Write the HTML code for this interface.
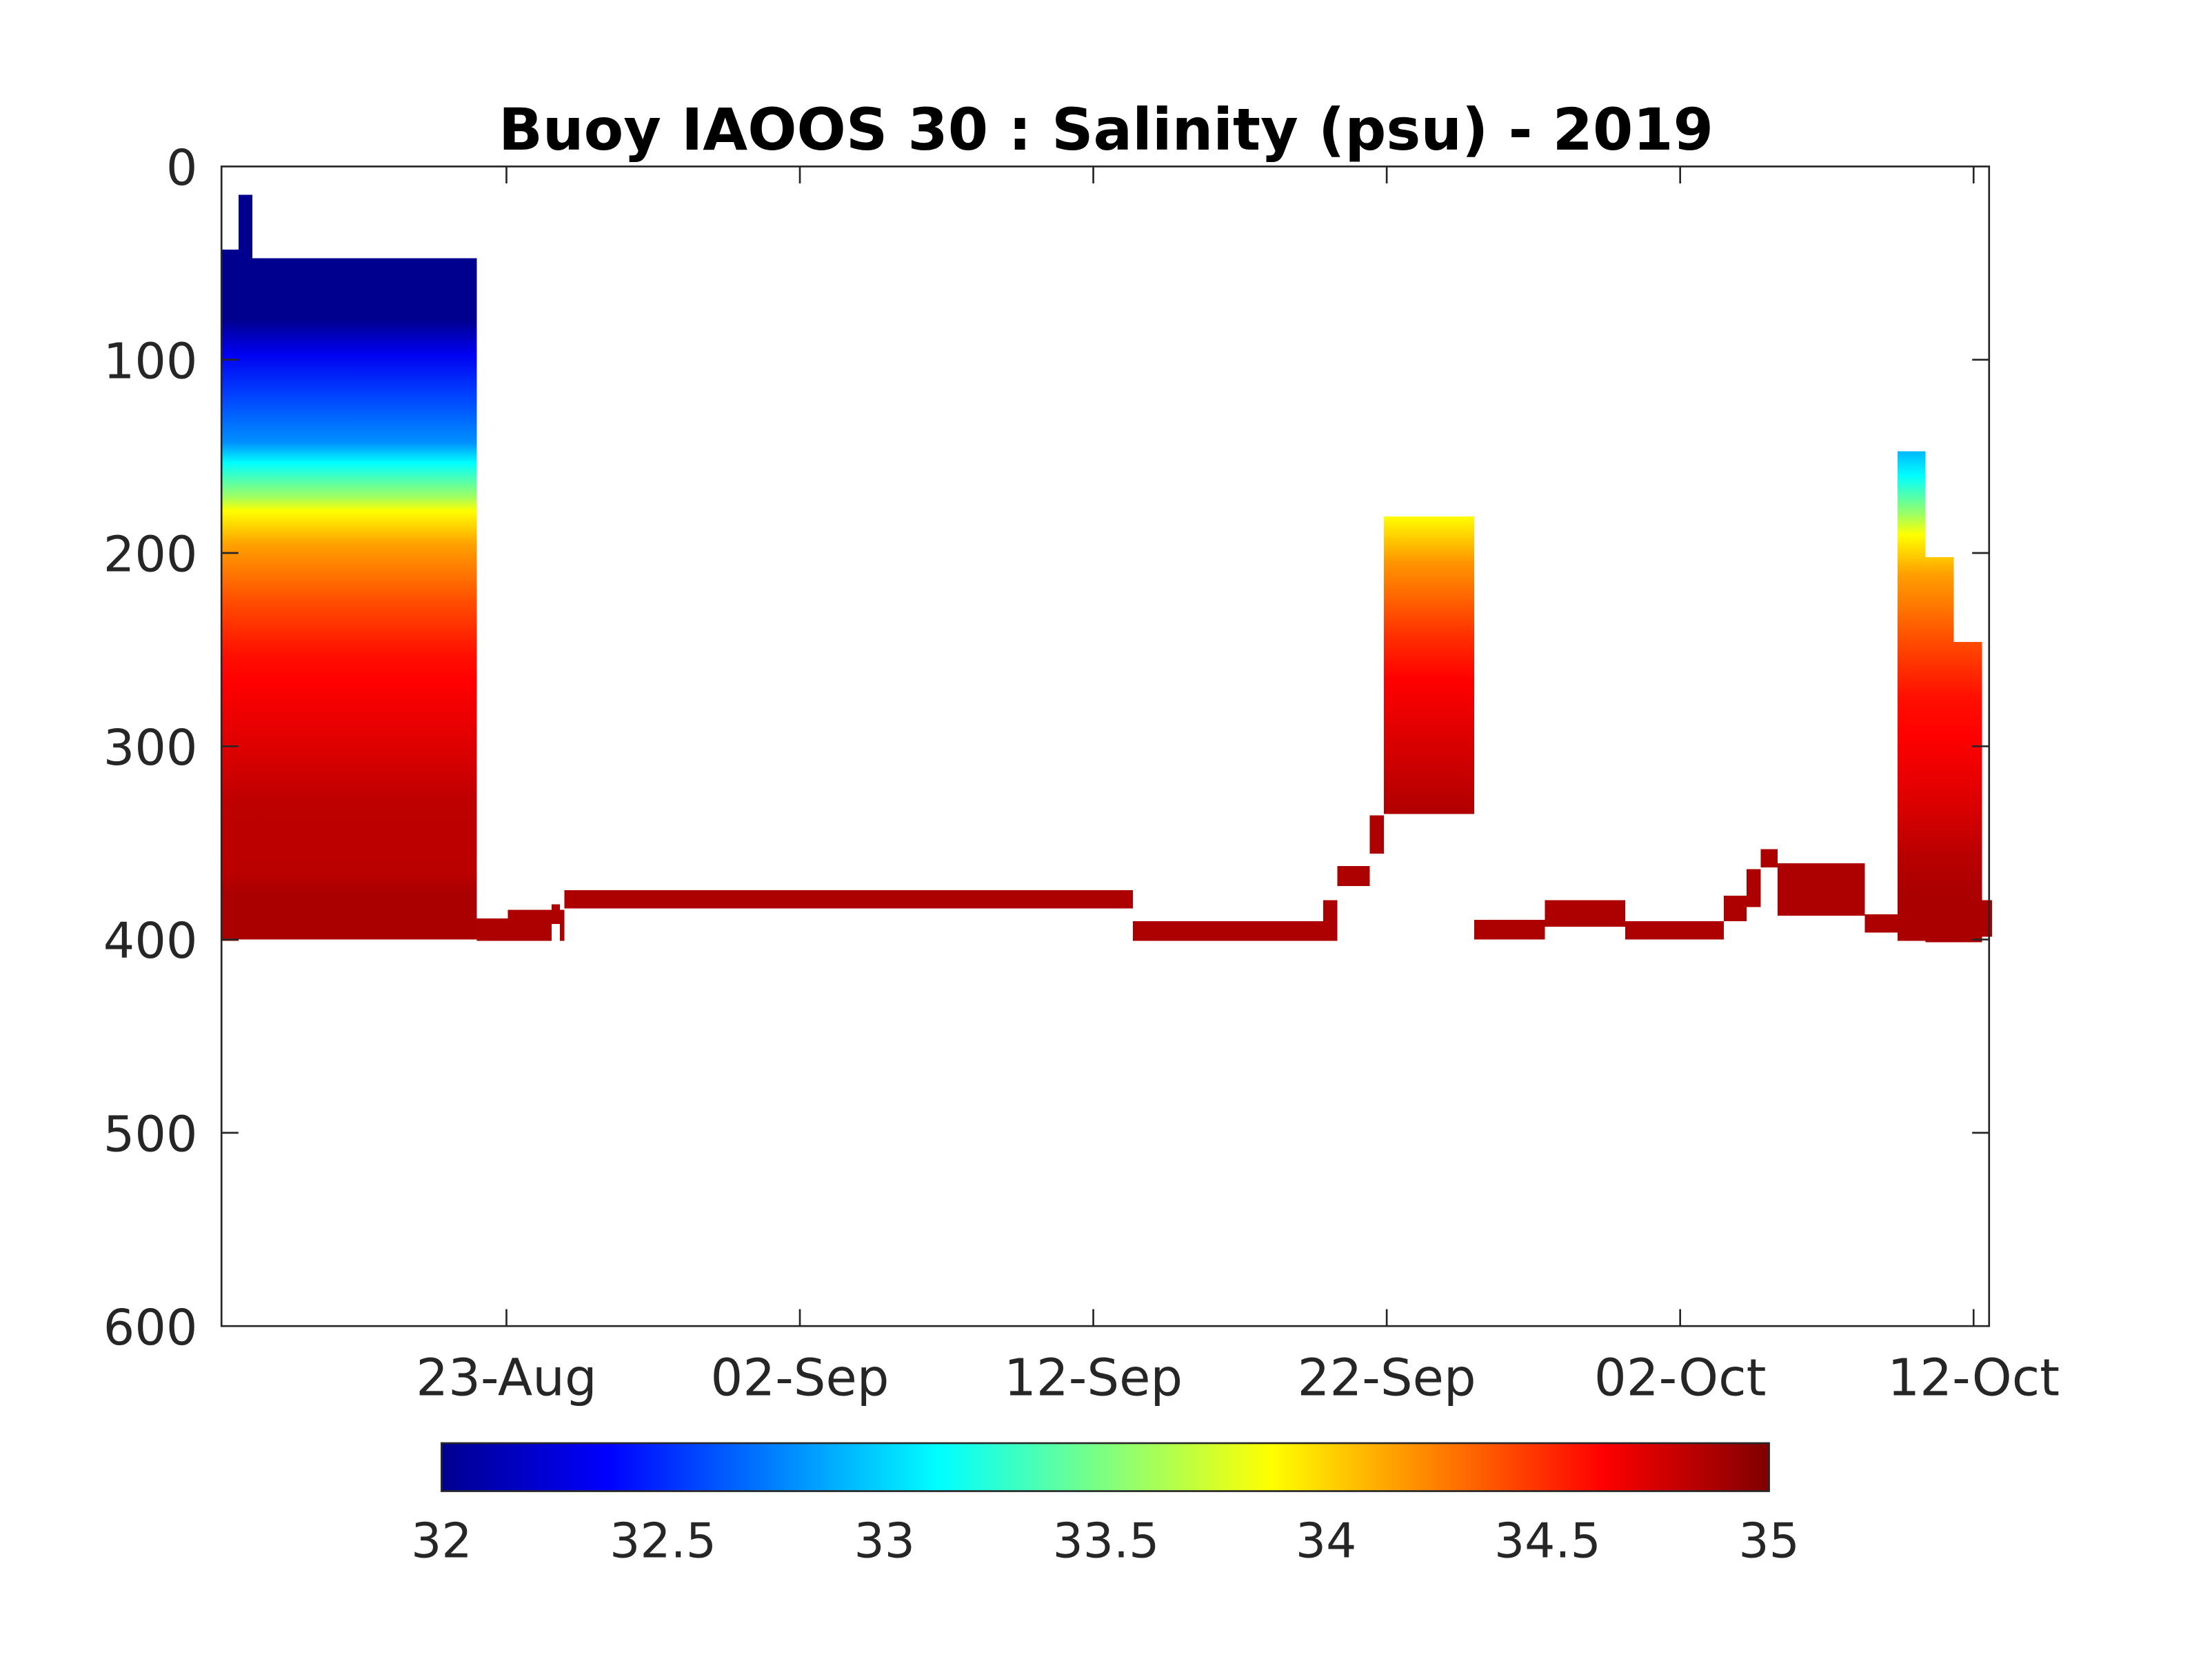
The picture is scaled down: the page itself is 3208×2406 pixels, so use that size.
<!DOCTYPE html>
<html><head><style>html,body{margin:0;padding:0;background:#fff}svg{display:block}</style></head>
<body>
<svg width="3208" height="2406" viewBox="0 0 1568 1176" xmlns="http://www.w3.org/2000/svg" font-family="DejaVu Sans, Liberation Sans, sans-serif">
<defs>
<linearGradient id="gL" gradientUnits="userSpaceOnUse" x1="0" y1="183" x2="0" y2="667">
<stop offset="0" stop-color="#00008f"/><stop offset="0.09" stop-color="#00008f"/>
<stop offset="0.14" stop-color="#0000f0"/><stop offset="0.2" stop-color="#0040ff"/>
<stop offset="0.27" stop-color="#0090ff"/><stop offset="0.3" stop-color="#00ffff"/>
<stop offset="0.35" stop-color="#a0ff60"/><stop offset="0.37" stop-color="#ffff00"/>
<stop offset="0.42" stop-color="#ffa000"/><stop offset="0.5" stop-color="#ff5000"/>
<stop offset="0.58" stop-color="#ff1000"/><stop offset="0.62" stop-color="#ff0000"/>
<stop offset="0.72" stop-color="#dc0000"/><stop offset="0.8" stop-color="#bd0000"/>
<stop offset="0.9" stop-color="#bb0000"/><stop offset="0.93" stop-color="#ab0000"/><stop offset="1" stop-color="#ab0000"/>
</linearGradient>
<linearGradient id="gM" gradientUnits="userSpaceOnUse" x1="0" y1="366" x2="0" y2="577">
<stop offset="0" stop-color="#ffff00"/><stop offset="0.15" stop-color="#ff9800"/>
<stop offset="0.4" stop-color="#ff3000"/><stop offset="0.55" stop-color="#ff0000"/>
<stop offset="0.75" stop-color="#dc0000"/><stop offset="1" stop-color="#b00000"/>
</linearGradient>
<linearGradient id="gR" gradientUnits="userSpaceOnUse" x1="0" y1="320" x2="0" y2="667">
<stop offset="0" stop-color="#00b8ff"/><stop offset="0.05" stop-color="#00ffff"/>
<stop offset="0.13" stop-color="#a0ff60"/><stop offset="0.17" stop-color="#ffff00"/>
<stop offset="0.25" stop-color="#ffa000"/><stop offset="0.38" stop-color="#ff5000"/>
<stop offset="0.5" stop-color="#ff1000"/><stop offset="0.58" stop-color="#ff0000"/>
<stop offset="0.72" stop-color="#dc0000"/><stop offset="0.82" stop-color="#bb0000"/>
<stop offset="0.9" stop-color="#ab0000"/><stop offset="1" stop-color="#ab0000"/>
</linearGradient>
<linearGradient id="cb" x1="0" y1="0" x2="1" y2="0">
<stop offset="0" stop-color="#00008f"/><stop offset="0.125" stop-color="#0000ff"/>
<stop offset="0.375" stop-color="#00ffff"/><stop offset="0.625" stop-color="#ffff00"/>
<stop offset="0.875" stop-color="#ff0000"/><stop offset="1" stop-color="#800000"/>
</linearGradient>
</defs>
<rect width="1568" height="1176" fill="#fff"/>
<g shape-rendering="crispEdges">
<rect x="157" y="177" width="12" height="490" fill="url(#gL)"/>
<rect x="169" y="138" width="10" height="50" fill="#00008f"/>
<rect x="169" y="183" width="169" height="483" fill="url(#gL)"/>
<g fill="#ad0000">
<rect x="338" y="651" width="22" height="16"/>
<rect x="360" y="645" width="31" height="22"/>
<rect x="391" y="641" width="6" height="14"/>
<rect x="397" y="645" width="3" height="22"/>
<rect x="400" y="631" width="403" height="13"/>
<rect x="803" y="653" width="135" height="14"/>
<rect x="938" y="638" width="10" height="29"/>
<rect x="948" y="614" width="23" height="14"/>
<rect x="971" y="578" width="10" height="27"/>
<rect x="1045" y="652" width="50" height="14"/>
<rect x="1095" y="638" width="57" height="19"/>
<rect x="1152" y="653" width="70" height="13"/>
<rect x="1222" y="635" width="16" height="18"/>
<rect x="1238" y="616" width="10" height="27"/>
<rect x="1248" y="602" width="12" height="13"/>
<rect x="1260" y="612" width="62" height="37"/>
<rect x="1322" y="648" width="23" height="13"/>
<rect x="1405" y="638" width="7" height="26"/>
</g>
<rect x="981" y="366" width="64" height="211" fill="url(#gM)"/>
<rect x="1345" y="320" width="20" height="347" fill="url(#gR)"/>
<rect x="1365" y="395" width="20" height="273" fill="url(#gR)"/>
<rect x="1385" y="455" width="20" height="213" fill="url(#gR)"/>
</g>
<g stroke="#262626" stroke-width="1.3" fill="none">
<rect x="157" y="118" width="1253" height="822"/>
<path d="M157 255h12M157 392h12M157 529h12M157 666h12M157 803h12M1410 255h-12M1410 392h-12M1410 529h-12M1410 666h-12M1410 803h-12"/>
<path d="M359 940v-12M567 940v-12M775 940v-12M983 940v-12M1191 940v-12M1399 940v-12M359 118v12M567 118v12M775 118v12M983 118v12M1191 118v12M1399 118v12"/>
</g>
<g fill="#262626" font-size="35" text-anchor="end">
<text x="140" y="131">0</text><text x="140" y="268">100</text><text x="140" y="405">200</text>
<text x="140" y="542">300</text><text x="140" y="679">400</text><text x="140" y="816">500</text><text x="140" y="953">600</text>
</g>
<g fill="#262626" font-size="36" text-anchor="middle">
<text x="359" y="989">23-Aug</text><text x="567" y="989">02-Sep</text><text x="775" y="989">12-Sep</text>
<text x="983" y="989">22-Sep</text><text x="1191" y="989">02-Oct</text><text x="1399" y="989">12-Oct</text>
</g>
<text x="784" y="106" text-anchor="middle" font-size="41" font-weight="bold" fill="#000">Buoy IAOOS 30 : Salinity (psu) - 2019</text>
<rect x="313" y="1023" width="941" height="34" fill="url(#cb)" stroke="#262626" stroke-width="1.3"/>
<g fill="#262626" font-size="34" text-anchor="middle">
<text x="313" y="1104">32</text><text x="470" y="1104">32.5</text><text x="627" y="1104">33</text>
<text x="784" y="1104">33.5</text><text x="940" y="1104">34</text><text x="1097" y="1104">34.5</text><text x="1254" y="1104">35</text>
</g>
</svg>
</body></html>
